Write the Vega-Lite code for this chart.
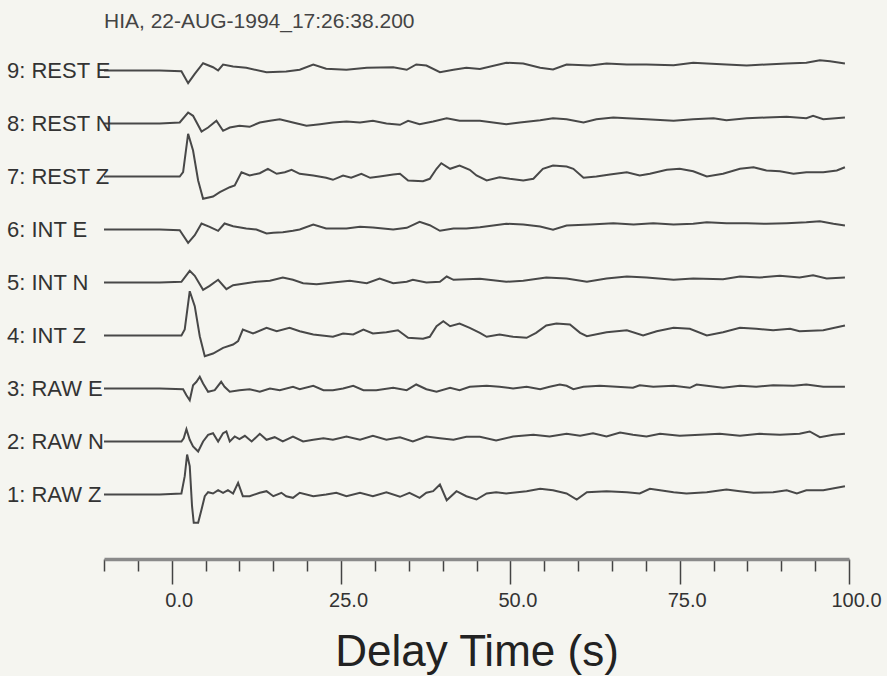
{
  "$schema": "https://vega.github.io/schema/vega-lite/v6.json",
  "background": "#f5f5f0",
  "padding": {"left": 7, "top": 11, "right": 5, "bottom": 2},
  "bounds": "flush",
  "title": {"text": "HIA, 22-AUG-1994_17:26:38.200", "anchor": "start", "frame": "group", "fontSize": 21, "fontWeight": "normal", "color": "#444", "font": "Liberation Sans", "offset": 12},
  "data": {"values": [
    {"ch":"9: REST E","t":-10,"a":0},{"ch":"9: REST E","t":-1.77,"a":0},{"ch":"9: REST E","t":1.43,"a":-0.7},{"ch":"9: REST E","t":2.42,"a":-12.7},{"ch":"9: REST E","t":3.4,"a":-3.3},{"ch":"9: REST E","t":4.63,"a":7.3},{"ch":"9: REST E","t":6.1,"a":3.3},{"ch":"9: REST E","t":6.85,"a":0},{"ch":"9: REST E","t":7.58,"a":6},{"ch":"9: REST E","t":9.06,"a":4},{"ch":"9: REST E","t":11.0,"a":2.7},{"ch":"9: REST E","t":14.0,"a":-1.7},{"ch":"9: REST E","t":16.9,"a":-1},{"ch":"9: REST E","t":18.9,"a":0.7},{"ch":"9: REST E","t":20.9,"a":6},{"ch":"9: REST E","t":22.8,"a":1.7},{"ch":"9: REST E","t":25.8,"a":0.7},{"ch":"9: REST E","t":28.8,"a":2.7},{"ch":"9: REST E","t":32.7,"a":3.3},{"ch":"9: REST E","t":34.7,"a":0.7},{"ch":"9: REST E","t":36.1,"a":6},{"ch":"9: REST E","t":37.6,"a":5},{"ch":"9: REST E","t":39.6,"a":-1.7},{"ch":"9: REST E","t":41.6,"a":0.7},{"ch":"9: REST E","t":43.5,"a":2.7},{"ch":"9: REST E","t":45.5,"a":1.5},{"ch":"9: REST E","t":49.4,"a":7.7},{"ch":"9: REST E","t":51.9,"a":7},{"ch":"9: REST E","t":54.4,"a":2.7},{"ch":"9: REST E","t":56.3,"a":1},{"ch":"9: REST E","t":58.3,"a":6},{"ch":"9: REST E","t":61.8,"a":5},{"ch":"9: REST E","t":64.2,"a":7},{"ch":"9: REST E","t":67.2,"a":6},{"ch":"9: REST E","t":70.1,"a":6},{"ch":"9: REST E","t":74.1,"a":5.3},{"ch":"9: REST E","t":77.0,"a":7.7},{"ch":"9: REST E","t":79.0,"a":7},{"ch":"9: REST E","t":81.9,"a":6},{"ch":"9: REST E","t":84.9,"a":5},{"ch":"9: REST E","t":87.8,"a":6},{"ch":"9: REST E","t":90.8,"a":7},{"ch":"9: REST E","t":93.7,"a":7.7},{"ch":"9: REST E","t":95.7,"a":10.3},{"ch":"9: REST E","t":97.2,"a":9.3},{"ch":"9: REST E","t":99.4,"a":7},
    {"ch":"8: REST N","t":-10,"a":0},{"ch":"8: REST N","t":-1.77,"a":0},{"ch":"8: REST N","t":1.18,"a":1},{"ch":"8: REST N","t":2.42,"a":11},{"ch":"8: REST N","t":3.15,"a":7.7},{"ch":"8: REST N","t":4.4,"a":-8},{"ch":"8: REST N","t":5.37,"a":-4},{"ch":"8: REST N","t":6.6,"a":2.7},{"ch":"8: REST N","t":7.58,"a":-7.3},{"ch":"8: REST N","t":8.57,"a":-4},{"ch":"8: REST N","t":10.0,"a":-2.3},{"ch":"8: REST N","t":11.5,"a":-3.3},{"ch":"8: REST N","t":13.0,"a":1},{"ch":"8: REST N","t":14.5,"a":2.7},{"ch":"8: REST N","t":15.95,"a":4.3},{"ch":"8: REST N","t":17.9,"a":1},{"ch":"8: REST N","t":19.9,"a":-2.3},{"ch":"8: REST N","t":21.9,"a":-0.7},{"ch":"8: REST N","t":23.8,"a":1},{"ch":"8: REST N","t":25.8,"a":2},{"ch":"8: REST N","t":27.8,"a":1},{"ch":"8: REST N","t":29.7,"a":2.7},{"ch":"8: REST N","t":31.7,"a":0},{"ch":"8: REST N","t":33.7,"a":-1.3},{"ch":"8: REST N","t":34.9,"a":2.7},{"ch":"8: REST N","t":36.6,"a":-0.7},{"ch":"8: REST N","t":38.6,"a":2},{"ch":"8: REST N","t":40.6,"a":5.3},{"ch":"8: REST N","t":42.5,"a":2.7},{"ch":"8: REST N","t":45.5,"a":2.7},{"ch":"8: REST N","t":49.4,"a":-0.7},{"ch":"8: REST N","t":51.4,"a":1},{"ch":"8: REST N","t":54.4,"a":3.3},{"ch":"8: REST N","t":56.3,"a":5.3},{"ch":"8: REST N","t":58.3,"a":4.3},{"ch":"8: REST N","t":60.8,"a":1},{"ch":"8: REST N","t":62.7,"a":4.3},{"ch":"8: REST N","t":65.2,"a":6},{"ch":"8: REST N","t":67.2,"a":5.3},{"ch":"8: REST N","t":70.1,"a":4.3},{"ch":"8: REST N","t":74.1,"a":2.7},{"ch":"8: REST N","t":77.0,"a":4.3},{"ch":"8: REST N","t":80.0,"a":5.3},{"ch":"8: REST N","t":81.9,"a":3.3},{"ch":"8: REST N","t":84.9,"a":5.3},{"ch":"8: REST N","t":87.8,"a":6},{"ch":"8: REST N","t":90.8,"a":6.7},{"ch":"8: REST N","t":93.7,"a":5.3},{"ch":"8: REST N","t":94.7,"a":7.7},{"ch":"8: REST N","t":96.2,"a":4.3},{"ch":"8: REST N","t":99.4,"a":6},
    {"ch":"7: REST Z","t":-10,"a":0},{"ch":"7: REST Z","t":-1.77,"a":0},{"ch":"7: REST Z","t":1.18,"a":0},{"ch":"7: REST Z","t":1.68,"a":4.3},{"ch":"7: REST Z","t":2.42,"a":42.7},{"ch":"7: REST Z","t":3.15,"a":26},{"ch":"7: REST Z","t":3.9,"a":-4},{"ch":"7: REST Z","t":4.63,"a":-22.3},{"ch":"7: REST Z","t":6.1,"a":-20},{"ch":"7: REST Z","t":7.1,"a":-15.7},{"ch":"7: REST Z","t":8.57,"a":-10.7},{"ch":"7: REST Z","t":9.3,"a":-9},{"ch":"7: REST Z","t":10.3,"a":4.3},{"ch":"7: REST Z","t":11.5,"a":1},{"ch":"7: REST Z","t":13.0,"a":3.3},{"ch":"7: REST Z","t":14.2,"a":7.7},{"ch":"7: REST Z","t":15.5,"a":2.7},{"ch":"7: REST Z","t":16.7,"a":4.3},{"ch":"7: REST Z","t":17.7,"a":6.7},{"ch":"7: REST Z","t":18.9,"a":2.7},{"ch":"7: REST Z","t":20.9,"a":1},{"ch":"7: REST Z","t":22.8,"a":-1.3},{"ch":"7: REST Z","t":23.8,"a":-3.3},{"ch":"7: REST Z","t":25.3,"a":1},{"ch":"7: REST Z","t":26.5,"a":-1.3},{"ch":"7: REST Z","t":28.0,"a":2.7},{"ch":"7: REST Z","t":29.3,"a":-1.3},{"ch":"7: REST Z","t":30.7,"a":0},{"ch":"7: REST Z","t":32.7,"a":2},{"ch":"7: REST Z","t":33.7,"a":2.7},{"ch":"7: REST Z","t":34.9,"a":-4},{"ch":"7: REST Z","t":37.1,"a":-4.7},{"ch":"7: REST Z","t":38.1,"a":-2.3},{"ch":"7: REST Z","t":39.1,"a":7.7},{"ch":"7: REST Z","t":39.8,"a":13.3},{"ch":"7: REST Z","t":41.1,"a":7.7},{"ch":"7: REST Z","t":42.5,"a":11},{"ch":"7: REST Z","t":44.0,"a":6.7},{"ch":"7: REST Z","t":45.0,"a":1},{"ch":"7: REST Z","t":46.5,"a":-4},{"ch":"7: REST Z","t":48.4,"a":-0.7},{"ch":"7: REST Z","t":49.9,"a":-2.3},{"ch":"7: REST Z","t":51.9,"a":-4},{"ch":"7: REST Z","t":53.4,"a":-2.3},{"ch":"7: REST Z","t":54.8,"a":7.7},{"ch":"7: REST Z","t":56.3,"a":11},{"ch":"7: REST Z","t":58.3,"a":10},{"ch":"7: REST Z","t":59.3,"a":7.7},{"ch":"7: REST Z","t":60.8,"a":-1.3},{"ch":"7: REST Z","t":62.7,"a":0},{"ch":"7: REST Z","t":64.7,"a":2},{"ch":"7: REST Z","t":67.2,"a":4.3},{"ch":"7: REST Z","t":69.1,"a":1},{"ch":"7: REST Z","t":70.6,"a":2.7},{"ch":"7: REST Z","t":73.1,"a":6.7},{"ch":"7: REST Z","t":75.0,"a":7.7},{"ch":"7: REST Z","t":77.0,"a":5.3},{"ch":"7: REST Z","t":79.0,"a":0},{"ch":"7: REST Z","t":81.4,"a":2.7},{"ch":"7: REST Z","t":83.9,"a":7.7},{"ch":"7: REST Z","t":85.9,"a":9.3},{"ch":"7: REST Z","t":87.8,"a":6},{"ch":"7: REST Z","t":89.8,"a":5.3},{"ch":"7: REST Z","t":91.8,"a":2.7},{"ch":"7: REST Z","t":93.7,"a":4.3},{"ch":"7: REST Z","t":96.2,"a":4.3},{"ch":"7: REST Z","t":98.2,"a":6},{"ch":"7: REST Z","t":99.4,"a":9.3},
    {"ch":"6: INT E","t":-10,"a":0},{"ch":"6: INT E","t":-1.77,"a":0},{"ch":"6: INT E","t":1.18,"a":-0.7},{"ch":"6: INT E","t":2.42,"a":-13.3},{"ch":"6: INT E","t":3.4,"a":-5.7},{"ch":"6: INT E","t":4.4,"a":6},{"ch":"6: INT E","t":5.6,"a":2.7},{"ch":"6: INT E","t":6.85,"a":-1.3},{"ch":"6: INT E","t":7.8,"a":6},{"ch":"6: INT E","t":9.06,"a":3.3},{"ch":"6: INT E","t":11.0,"a":1},{"ch":"6: INT E","t":12.5,"a":0},{"ch":"6: INT E","t":14.0,"a":-4},{"ch":"6: INT E","t":15.0,"a":-3.3},{"ch":"6: INT E","t":16.4,"a":-2.7},{"ch":"6: INT E","t":17.9,"a":-1.3},{"ch":"6: INT E","t":18.9,"a":0},{"ch":"6: INT E","t":20.9,"a":5},{"ch":"6: INT E","t":22.8,"a":1},{"ch":"6: INT E","t":25.8,"a":1},{"ch":"6: INT E","t":27.8,"a":2.7},{"ch":"6: INT E","t":29.7,"a":2},{"ch":"6: INT E","t":32.7,"a":0},{"ch":"6: INT E","t":34.7,"a":1.7},{"ch":"6: INT E","t":36.6,"a":7.7},{"ch":"6: INT E","t":38.1,"a":4.3},{"ch":"6: INT E","t":39.6,"a":-1.3},{"ch":"6: INT E","t":41.6,"a":1},{"ch":"6: INT E","t":43.5,"a":1},{"ch":"6: INT E","t":45.5,"a":2.2},{"ch":"6: INT E","t":49.4,"a":5.7},{"ch":"6: INT E","t":51.9,"a":5},{"ch":"6: INT E","t":54.4,"a":3},{"ch":"6: INT E","t":56.3,"a":-0.3},{"ch":"6: INT E","t":58.3,"a":4},{"ch":"6: INT E","t":61.8,"a":5},{"ch":"6: INT E","t":65.2,"a":6.3},{"ch":"6: INT E","t":68.2,"a":5},{"ch":"6: INT E","t":71.1,"a":6.3},{"ch":"6: INT E","t":74.1,"a":5},{"ch":"6: INT E","t":77.0,"a":5.7},{"ch":"6: INT E","t":79.0,"a":7.3},{"ch":"6: INT E","t":81.9,"a":6.3},{"ch":"6: INT E","t":84.9,"a":6.3},{"ch":"6: INT E","t":87.8,"a":5.7},{"ch":"6: INT E","t":90.8,"a":6.3},{"ch":"6: INT E","t":93.7,"a":7.3},{"ch":"6: INT E","t":95.7,"a":8.3},{"ch":"6: INT E","t":97.7,"a":5.7},{"ch":"6: INT E","t":99.4,"a":4},
    {"ch":"5: INT N","t":-10,"a":0},{"ch":"5: INT N","t":-1.77,"a":0},{"ch":"5: INT N","t":1.43,"a":0.7},{"ch":"5: INT N","t":2.66,"a":11.7},{"ch":"5: INT N","t":3.4,"a":6.7},{"ch":"5: INT N","t":4.63,"a":-7.3},{"ch":"5: INT N","t":5.6,"a":-3.3},{"ch":"5: INT N","t":6.85,"a":2.7},{"ch":"5: INT N","t":8.07,"a":-6.7},{"ch":"5: INT N","t":9.06,"a":-2.7},{"ch":"5: INT N","t":11.0,"a":-0.7},{"ch":"5: INT N","t":12.5,"a":0.7},{"ch":"5: INT N","t":14.5,"a":1.7},{"ch":"5: INT N","t":16.4,"a":5},{"ch":"5: INT N","t":17.9,"a":2.7},{"ch":"5: INT N","t":19.4,"a":-0.7},{"ch":"5: INT N","t":21.4,"a":-1.7},{"ch":"5: INT N","t":23.8,"a":0},{"ch":"5: INT N","t":26.3,"a":1.7},{"ch":"5: INT N","t":28.8,"a":-0.7},{"ch":"5: INT N","t":30.7,"a":4},{"ch":"5: INT N","t":32.7,"a":-0.7},{"ch":"5: INT N","t":34.7,"a":0.7},{"ch":"5: INT N","t":35.6,"a":2.7},{"ch":"5: INT N","t":37.6,"a":0},{"ch":"5: INT N","t":39.6,"a":0.7},{"ch":"5: INT N","t":40.6,"a":6},{"ch":"5: INT N","t":41.6,"a":2.7},{"ch":"5: INT N","t":43.5,"a":3.3},{"ch":"5: INT N","t":45.5,"a":3.7},{"ch":"5: INT N","t":49.4,"a":0.7},{"ch":"5: INT N","t":51.9,"a":1.7},{"ch":"5: INT N","t":55.3,"a":5},{"ch":"5: INT N","t":58.3,"a":4},{"ch":"5: INT N","t":61.3,"a":0.7},{"ch":"5: INT N","t":64.2,"a":4},{"ch":"5: INT N","t":67.2,"a":6},{"ch":"5: INT N","t":70.1,"a":5},{"ch":"5: INT N","t":74.1,"a":2.7},{"ch":"5: INT N","t":77.0,"a":4},{"ch":"5: INT N","t":81.4,"a":3.3},{"ch":"5: INT N","t":83.9,"a":6},{"ch":"5: INT N","t":86.8,"a":5},{"ch":"5: INT N","t":89.8,"a":6.7},{"ch":"5: INT N","t":92.7,"a":5},{"ch":"5: INT N","t":94.7,"a":7.3},{"ch":"5: INT N","t":96.7,"a":4},{"ch":"5: INT N","t":99.4,"a":5},
    {"ch":"4: INT Z","t":-10,"a":0},{"ch":"4: INT Z","t":-1.77,"a":0},{"ch":"4: INT Z","t":1.43,"a":0},{"ch":"4: INT Z","t":1.92,"a":6},{"ch":"4: INT Z","t":2.66,"a":44.3},{"ch":"4: INT Z","t":3.4,"a":29.3},{"ch":"4: INT Z","t":4.14,"a":-0.7},{"ch":"4: INT Z","t":4.88,"a":-20.7},{"ch":"4: INT Z","t":6.1,"a":-18},{"ch":"4: INT Z","t":7.58,"a":-12.3},{"ch":"4: INT Z","t":9.06,"a":-9},{"ch":"4: INT Z","t":9.8,"a":-5.7},{"ch":"4: INT Z","t":10.5,"a":6},{"ch":"4: INT Z","t":12.0,"a":2},{"ch":"4: INT Z","t":14.0,"a":7.7},{"ch":"4: INT Z","t":15.5,"a":4.3},{"ch":"4: INT Z","t":17.4,"a":7.7},{"ch":"4: INT Z","t":18.9,"a":4.3},{"ch":"4: INT Z","t":20.9,"a":1},{"ch":"4: INT Z","t":23.8,"a":-1.3},{"ch":"4: INT Z","t":25.3,"a":2},{"ch":"4: INT Z","t":26.8,"a":1},{"ch":"4: INT Z","t":28.3,"a":6},{"ch":"4: INT Z","t":29.7,"a":2},{"ch":"4: INT Z","t":31.7,"a":3.3},{"ch":"4: INT Z","t":33.4,"a":5.3},{"ch":"4: INT Z","t":34.9,"a":-2.3},{"ch":"4: INT Z","t":37.1,"a":-3.3},{"ch":"4: INT Z","t":38.1,"a":-1.3},{"ch":"4: INT Z","t":39.1,"a":9.3},{"ch":"4: INT Z","t":40.1,"a":14.3},{"ch":"4: INT Z","t":41.1,"a":9.3},{"ch":"4: INT Z","t":42.5,"a":12},{"ch":"4: INT Z","t":44.0,"a":7.7},{"ch":"4: INT Z","t":45.5,"a":2.7},{"ch":"4: INT Z","t":46.5,"a":-1.3},{"ch":"4: INT Z","t":48.4,"a":1},{"ch":"4: INT Z","t":50.4,"a":-1.3},{"ch":"4: INT Z","t":52.4,"a":-2.3},{"ch":"4: INT Z","t":53.8,"a":2.7},{"ch":"4: INT Z","t":55.3,"a":10},{"ch":"4: INT Z","t":56.8,"a":12},{"ch":"4: INT Z","t":58.8,"a":11},{"ch":"4: INT Z","t":60.3,"a":2.7},{"ch":"4: INT Z","t":61.3,"a":-0.7},{"ch":"4: INT Z","t":64.2,"a":3.3},{"ch":"4: INT Z","t":67.2,"a":5.3},{"ch":"4: INT Z","t":69.6,"a":0},{"ch":"4: INT Z","t":71.6,"a":4.3},{"ch":"4: INT Z","t":74.1,"a":7.7},{"ch":"4: INT Z","t":76.5,"a":6.7},{"ch":"4: INT Z","t":79.0,"a":0},{"ch":"4: INT Z","t":81.4,"a":3.3},{"ch":"4: INT Z","t":83.9,"a":7.7},{"ch":"4: INT Z","t":86.3,"a":6.7},{"ch":"4: INT Z","t":88.8,"a":5.3},{"ch":"4: INT Z","t":91.3,"a":6.7},{"ch":"4: INT Z","t":92.7,"a":4.3},{"ch":"4: INT Z","t":96.2,"a":5.3},{"ch":"4: INT Z","t":99.4,"a":10},
    {"ch":"3: RAW E","t":-10,"a":0},{"ch":"3: RAW E","t":-1.77,"a":0},{"ch":"3: RAW E","t":1.68,"a":-0.7},{"ch":"3: RAW E","t":2.17,"a":-6.7},{"ch":"3: RAW E","t":2.66,"a":-11.7},{"ch":"3: RAW E","t":3.15,"a":3.3},{"ch":"3: RAW E","t":3.65,"a":6.7},{"ch":"3: RAW E","t":4.14,"a":11.7},{"ch":"3: RAW E","t":4.63,"a":5},{"ch":"3: RAW E","t":5.37,"a":-3.3},{"ch":"3: RAW E","t":6.35,"a":-1.7},{"ch":"3: RAW E","t":7.3,"a":6.7},{"ch":"3: RAW E","t":7.8,"a":1.7},{"ch":"3: RAW E","t":8.57,"a":-3.3},{"ch":"3: RAW E","t":10.0,"a":-1.7},{"ch":"3: RAW E","t":11.5,"a":-0.7},{"ch":"3: RAW E","t":13.0,"a":-3.3},{"ch":"3: RAW E","t":14.5,"a":0},{"ch":"3: RAW E","t":15.95,"a":-1.7},{"ch":"3: RAW E","t":17.9,"a":1.7},{"ch":"3: RAW E","t":18.9,"a":-0.7},{"ch":"3: RAW E","t":20.9,"a":2.7},{"ch":"3: RAW E","t":22.4,"a":-1.7},{"ch":"3: RAW E","t":23.8,"a":-1.7},{"ch":"3: RAW E","t":25.3,"a":0},{"ch":"3: RAW E","t":26.8,"a":2.7},{"ch":"3: RAW E","t":28.3,"a":-1.7},{"ch":"3: RAW E","t":30.2,"a":-1.7},{"ch":"3: RAW E","t":32.7,"a":0.7},{"ch":"3: RAW E","t":34.7,"a":-1.7},{"ch":"3: RAW E","t":36.1,"a":4},{"ch":"3: RAW E","t":37.6,"a":-0.7},{"ch":"3: RAW E","t":39.1,"a":-3.3},{"ch":"3: RAW E","t":41.1,"a":0.7},{"ch":"3: RAW E","t":42.5,"a":-1.7},{"ch":"3: RAW E","t":44.0,"a":1.7},{"ch":"3: RAW E","t":46.5,"a":2.7},{"ch":"3: RAW E","t":48.4,"a":1.7},{"ch":"3: RAW E","t":50.4,"a":0},{"ch":"3: RAW E","t":52.4,"a":1.7},{"ch":"3: RAW E","t":54.4,"a":-0.7},{"ch":"3: RAW E","t":55.8,"a":1.7},{"ch":"3: RAW E","t":57.3,"a":4},{"ch":"3: RAW E","t":58.3,"a":2.7},{"ch":"3: RAW E","t":59.3,"a":-0.7},{"ch":"3: RAW E","t":60.8,"a":1.7},{"ch":"3: RAW E","t":63.2,"a":2.7},{"ch":"3: RAW E","t":65.7,"a":1.7},{"ch":"3: RAW E","t":68.1,"a":0.7},{"ch":"3: RAW E","t":69.1,"a":3.3},{"ch":"3: RAW E","t":71.1,"a":1.7},{"ch":"3: RAW E","t":74.1,"a":2.7},{"ch":"3: RAW E","t":76.5,"a":0.7},{"ch":"3: RAW E","t":77.5,"a":4},{"ch":"3: RAW E","t":79.0,"a":2.7},{"ch":"3: RAW E","t":81.4,"a":0.7},{"ch":"3: RAW E","t":83.9,"a":2.7},{"ch":"3: RAW E","t":86.3,"a":1.7},{"ch":"3: RAW E","t":88.8,"a":3.3},{"ch":"3: RAW E","t":91.8,"a":2.7},{"ch":"3: RAW E","t":93.7,"a":4},{"ch":"3: RAW E","t":96.2,"a":1.7},{"ch":"3: RAW E","t":99.4,"a":1.7},
    {"ch":"2: RAW N","t":-10,"a":0},{"ch":"2: RAW N","t":-1.77,"a":0},{"ch":"2: RAW N","t":1.43,"a":0},{"ch":"2: RAW N","t":1.77,"a":3.3},{"ch":"2: RAW N","t":2.17,"a":12.3},{"ch":"2: RAW N","t":2.66,"a":1.7},{"ch":"2: RAW N","t":3.15,"a":-5},{"ch":"2: RAW N","t":3.9,"a":-10},{"ch":"2: RAW N","t":4.63,"a":0},{"ch":"2: RAW N","t":5.37,"a":6.7},{"ch":"2: RAW N","t":6.1,"a":8.3},{"ch":"2: RAW N","t":6.85,"a":0},{"ch":"2: RAW N","t":7.58,"a":8.3},{"ch":"2: RAW N","t":8.07,"a":10},{"ch":"2: RAW N","t":8.57,"a":0},{"ch":"2: RAW N","t":9.3,"a":5},{"ch":"2: RAW N","t":10.0,"a":2.3},{"ch":"2: RAW N","t":10.8,"a":5.7},{"ch":"2: RAW N","t":11.8,"a":0},{"ch":"2: RAW N","t":13.0,"a":7.7},{"ch":"2: RAW N","t":14.0,"a":1.7},{"ch":"2: RAW N","t":15.2,"a":4.3},{"ch":"2: RAW N","t":16.4,"a":0},{"ch":"2: RAW N","t":17.9,"a":5},{"ch":"2: RAW N","t":19.4,"a":0},{"ch":"2: RAW N","t":20.9,"a":1.7},{"ch":"2: RAW N","t":22.4,"a":3.3},{"ch":"2: RAW N","t":23.8,"a":1.7},{"ch":"2: RAW N","t":25.8,"a":5},{"ch":"2: RAW N","t":27.8,"a":1.7},{"ch":"2: RAW N","t":29.7,"a":5.7},{"ch":"2: RAW N","t":31.7,"a":1.7},{"ch":"2: RAW N","t":33.7,"a":4.3},{"ch":"2: RAW N","t":35.6,"a":0},{"ch":"2: RAW N","t":37.6,"a":5},{"ch":"2: RAW N","t":39.6,"a":3.3},{"ch":"2: RAW N","t":41.6,"a":1.7},{"ch":"2: RAW N","t":43.5,"a":4.7},{"ch":"2: RAW N","t":45.5,"a":4.7},{"ch":"2: RAW N","t":47.9,"a":1},{"ch":"2: RAW N","t":50.4,"a":5},{"ch":"2: RAW N","t":53.4,"a":6.7},{"ch":"2: RAW N","t":55.8,"a":5},{"ch":"2: RAW N","t":58.3,"a":7.7},{"ch":"2: RAW N","t":60.3,"a":5.7},{"ch":"2: RAW N","t":62.2,"a":8.3},{"ch":"2: RAW N","t":64.2,"a":5},{"ch":"2: RAW N","t":66.2,"a":9},{"ch":"2: RAW N","t":68.1,"a":6.7},{"ch":"2: RAW N","t":70.1,"a":5},{"ch":"2: RAW N","t":72.1,"a":7.7},{"ch":"2: RAW N","t":75.0,"a":5.7},{"ch":"2: RAW N","t":78.0,"a":6.7},{"ch":"2: RAW N","t":80.9,"a":7.7},{"ch":"2: RAW N","t":83.9,"a":5.7},{"ch":"2: RAW N","t":86.8,"a":7.7},{"ch":"2: RAW N","t":89.8,"a":6.7},{"ch":"2: RAW N","t":92.7,"a":7.7},{"ch":"2: RAW N","t":94.2,"a":10},{"ch":"2: RAW N","t":95.7,"a":4.3},{"ch":"2: RAW N","t":97.7,"a":6.7},{"ch":"2: RAW N","t":99.4,"a":7.7},
    {"ch":"1: RAW Z","t":-10,"a":0},{"ch":"1: RAW Z","t":-1.77,"a":0},{"ch":"1: RAW Z","t":1.43,"a":1},{"ch":"1: RAW Z","t":1.92,"a":18.3},{"ch":"1: RAW Z","t":2.27,"a":40},{"ch":"1: RAW Z","t":2.66,"a":28.3},{"ch":"1: RAW Z","t":3.0,"a":-11.7},{"ch":"1: RAW Z","t":3.25,"a":-28.3},{"ch":"1: RAW Z","t":3.9,"a":-28.3},{"ch":"1: RAW Z","t":4.4,"a":-15},{"ch":"1: RAW Z","t":4.88,"a":-1.7},{"ch":"1: RAW Z","t":5.37,"a":2.3},{"ch":"1: RAW Z","t":6.1,"a":1},{"ch":"1: RAW Z","t":6.85,"a":4.3},{"ch":"1: RAW Z","t":7.58,"a":1.7},{"ch":"1: RAW Z","t":8.3,"a":4.3},{"ch":"1: RAW Z","t":9.06,"a":1},{"ch":"1: RAW Z","t":9.8,"a":11.7},{"ch":"1: RAW Z","t":10.5,"a":-1.7},{"ch":"1: RAW Z","t":11.5,"a":-1.7},{"ch":"1: RAW Z","t":13.0,"a":1.7},{"ch":"1: RAW Z","t":14.0,"a":3.3},{"ch":"1: RAW Z","t":15.0,"a":-1.7},{"ch":"1: RAW Z","t":16.2,"a":1.7},{"ch":"1: RAW Z","t":16.9,"a":-1.7},{"ch":"1: RAW Z","t":17.9,"a":-3.3},{"ch":"1: RAW Z","t":18.9,"a":1.7},{"ch":"1: RAW Z","t":20.9,"a":-1.7},{"ch":"1: RAW Z","t":22.8,"a":0},{"ch":"1: RAW Z","t":24.3,"a":1.7},{"ch":"1: RAW Z","t":25.8,"a":-1.7},{"ch":"1: RAW Z","t":27.8,"a":1.7},{"ch":"1: RAW Z","t":29.7,"a":-1.7},{"ch":"1: RAW Z","t":31.7,"a":2.3},{"ch":"1: RAW Z","t":33.7,"a":-2.3},{"ch":"1: RAW Z","t":35.1,"a":1.7},{"ch":"1: RAW Z","t":36.6,"a":-3.3},{"ch":"1: RAW Z","t":37.6,"a":1.7},{"ch":"1: RAW Z","t":38.6,"a":3.3},{"ch":"1: RAW Z","t":39.6,"a":10},{"ch":"1: RAW Z","t":40.6,"a":-5.7},{"ch":"1: RAW Z","t":42.05,"a":3.3},{"ch":"1: RAW Z","t":43.5,"a":-1.7},{"ch":"1: RAW Z","t":45.0,"a":-5},{"ch":"1: RAW Z","t":46.5,"a":1},{"ch":"1: RAW Z","t":47.9,"a":2.3},{"ch":"1: RAW Z","t":49.4,"a":1},{"ch":"1: RAW Z","t":52.4,"a":3.3},{"ch":"1: RAW Z","t":54.4,"a":5.7},{"ch":"1: RAW Z","t":56.3,"a":4.3},{"ch":"1: RAW Z","t":58.3,"a":1},{"ch":"1: RAW Z","t":59.8,"a":-5},{"ch":"1: RAW Z","t":61.3,"a":2.3},{"ch":"1: RAW Z","t":64.2,"a":3.3},{"ch":"1: RAW Z","t":67.2,"a":2.3},{"ch":"1: RAW Z","t":69.1,"a":1},{"ch":"1: RAW Z","t":70.6,"a":5.7},{"ch":"1: RAW Z","t":72.1,"a":4.3},{"ch":"1: RAW Z","t":74.1,"a":2.3},{"ch":"1: RAW Z","t":76.0,"a":1},{"ch":"1: RAW Z","t":79.0,"a":2.3},{"ch":"1: RAW Z","t":81.9,"a":5},{"ch":"1: RAW Z","t":83.9,"a":3.3},{"ch":"1: RAW Z","t":85.9,"a":1.7},{"ch":"1: RAW Z","t":88.8,"a":2.3},{"ch":"1: RAW Z","t":90.8,"a":4.3},{"ch":"1: RAW Z","t":92.3,"a":1},{"ch":"1: RAW Z","t":93.7,"a":4.3},{"ch":"1: RAW Z","t":96.2,"a":4.3},{"ch":"1: RAW Z","t":99.4,"a":8.3}
  ]},
  "facet": {"row": {"field": "ch", "type": "nominal", "sort": "descending", "title": null, "header": {"labels": false}}},
  "spacing": 0,
  "spec": {
    "width": 745,
    "height": 53,
    "encoding": {
      "x": {"field": "t", "type": "quantitative", "scale": {"domain": [-10, 100], "nice": false, "zero": false},
        "axis": {"values": [-10,-5,0,5,10,15,20,25,30,35,40,45,50,55,60,65,70,75,80,85,90,95,100],
          "labelExpr": "datum.value % 25 === 0 ? format(datum.value, '.1f') : ''",
          "tickSize": {"condition": {"test": "datum.value % 25 === 0", "value": 25}, "value": 12},
          "offset": 38, "grid": false, "domainColor": "#8a8a8a", "domainWidth": 3.5, "tickColor": "#444", "tickWidth": 1.5,
          "labelFontSize": 20, "labelColor": "#333", "labelFont": "Liberation Sans", "labelPadding": 6, "labelOffset": 7, "labelFlush": false, "labelOverlap": false, "labelBound": false,
          "title": "Delay Time (s)", "titleFontSize": 44, "titleFontWeight": "normal", "titleColor": "#222", "titleFont": "Liberation Sans", "titlePadding": 20}},
      "y": {"field": "a", "type": "quantitative", "scale": {"domain": [-26.5, 26.5], "nice": false, "zero": false}, "axis": null}
    },
    "layer": [
      {"mark": {"type": "line", "color": "#484848", "strokeWidth": 2, "clip": false}},
      {"transform": [{"filter": "datum.t === -10"}],
       "mark": {"type": "text", "align": "left", "baseline": "middle", "dx": -97, "fontSize": 22, "color": "#333", "font": "Liberation Sans"},
       "encoding": {"text": {"field": "ch", "type": "nominal"}}}
    ]
  },
  "config": {"view": {"stroke": null}, "font": "Liberation Sans"}
}
